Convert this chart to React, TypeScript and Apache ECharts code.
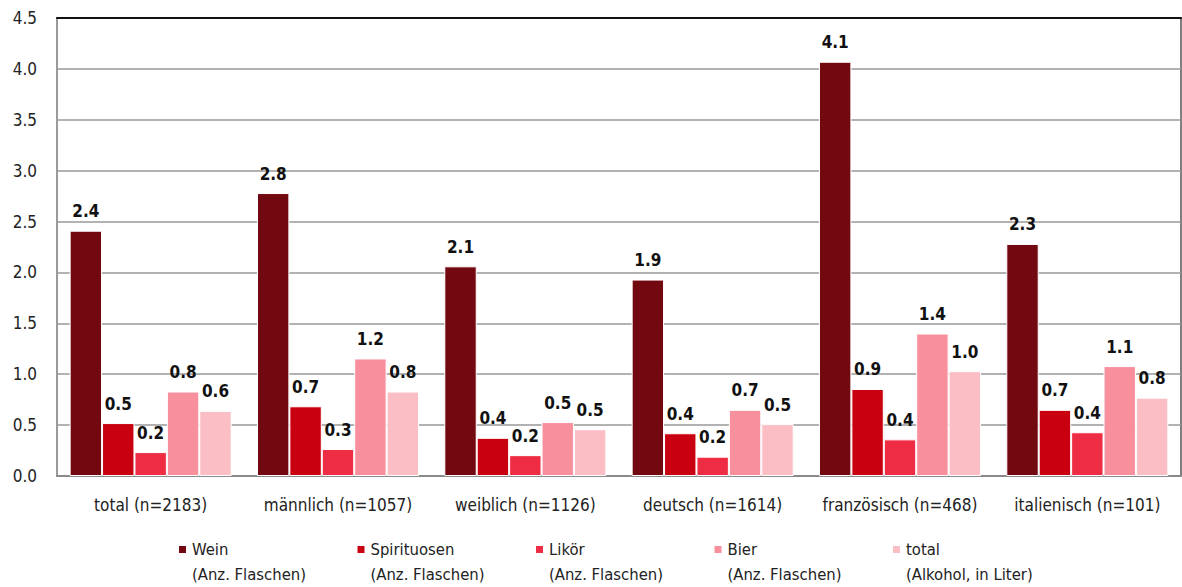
import React, { useEffect, useRef } from "react";
import * as echarts from "echarts";

const categories = [
  "total (n=2183)",
  "männlich (n=1057)",
  "weiblich (n=1126)",
  "deutsch (n=1614)",
  "französisch (n=468)",
  "italienisch (n=101)",
];

const seriesNames = [
  "Wein\n(Anz. Flaschen)",
  "Spirituosen\n(Anz. Flaschen)",
  "Likör\n(Anz. Flaschen)",
  "Bier\n(Anz. Flaschen)",
  "total\n(Alkohol, in Liter)",
];

const seriesColors = ["#730910", "#C8000F", "#EE2D44", "#F88F9D", "#FBBEC5"];

const wein = [2.41, 2.78, 2.06, 1.93, 4.07, 2.28];
const spirituosen = [0.52, 0.685, 0.375, 0.42, 0.855, 0.65];
const likoer = [0.235, 0.265, 0.205, 0.19, 0.36, 0.43];
const bier = [0.83, 1.155, 0.53, 0.65, 1.4, 1.08];
const totalAlk = [0.64, 0.83, 0.46, 0.51, 1.03, 0.77];

const seriesValues = [wein, spirituosen, likoer, bier, totalAlk];

const yTicks = { min: 0, max: 4.5, interval: 0.5 };

const FONT = "'DejaVu Sans Condensed', 'Liberation Sans Narrow', 'Arial Narrow', sans-serif";

export default function App() {
  const ref = useRef<HTMLDivElement>(null);
  useEffect(() => {
    if (!ref.current) return;
    const chart = echarts.init(ref.current, undefined, { renderer: "svg" });
    chart.setOption({
      animation: false,
      textStyle: { fontFamily: FONT },
      grid: {
        left: 57,
        right: 1,
        top: 18,
        bottom: 111,
        show: true,
        borderColor: "#555",
        borderWidth: 1.5,
      },
      legend: {
        left: 172,
        top: 507,
        itemWidth: 9,
        itemHeight: 9,
        itemGap: 0.5,
        icon: "rect",
        formatter: (name: string) => " \n" + name,
        textStyle: {
          fontFamily: FONT,
          fontSize: 16.5,
          color: "#222",
          lineHeight: 25,
          width: 163,
        },
        data: seriesNames,
      },
      xAxis: [
        {
          type: "category",
          data: categories,
          axisLine: { lineStyle: { color: "#8a8a8a", width: 2 } },
          axisTick: { show: false },
          axisLabel: {
            interval: 0,
            fontFamily: FONT,
            fontSize: 17,
            color: "#222",
            margin: 20,
          },
        },
        {
          type: "category",
          data: categories,
          position: "top",
          axisLine: { lineStyle: { color: "#111", width: 2 } },
          axisTick: { show: false },
          axisLabel: { show: false },
        },
      ],
      yAxis: {
        type: "value",
        min: yTicks.min,
        max: yTicks.max,
        interval: yTicks.interval,
        axisLine: { show: true, lineStyle: { color: "#9a9a9a", width: 2 } },
        axisTick: { show: false },
        axisLabel: {
          fontFamily: FONT,
          fontSize: 17,
          color: "#222",
          margin: 20,
          formatter: (v: number) => v.toFixed(1),
        },
        splitLine: { lineStyle: { color: "#999", width: 1.5 } },
      },
      series: seriesNames.map((name, i) => ({
        name,
        type: "bar",
        data: seriesValues[i],
        barGap: "0%",
        barCategoryGap: "13.5%",
        itemStyle: { color: seriesColors[i], borderColor: "#fff", borderWidth: 1 },
        label: {
          show: true,
          position: "top",
          distance: 11,
          fontFamily: FONT,
          fontSize: 17,
          fontWeight: "bold",
          color: "#111",
          formatter: (p: any) => Number(p.value).toFixed(1),
        },
      })),
    });
    return () => chart.dispose();
  }, []);
  return (
    <div
      ref={ref}
      style={{ position: "fixed", left: 0, top: 0, width: 1182, height: 587, background: "#fff" }}
    />
  );
}
